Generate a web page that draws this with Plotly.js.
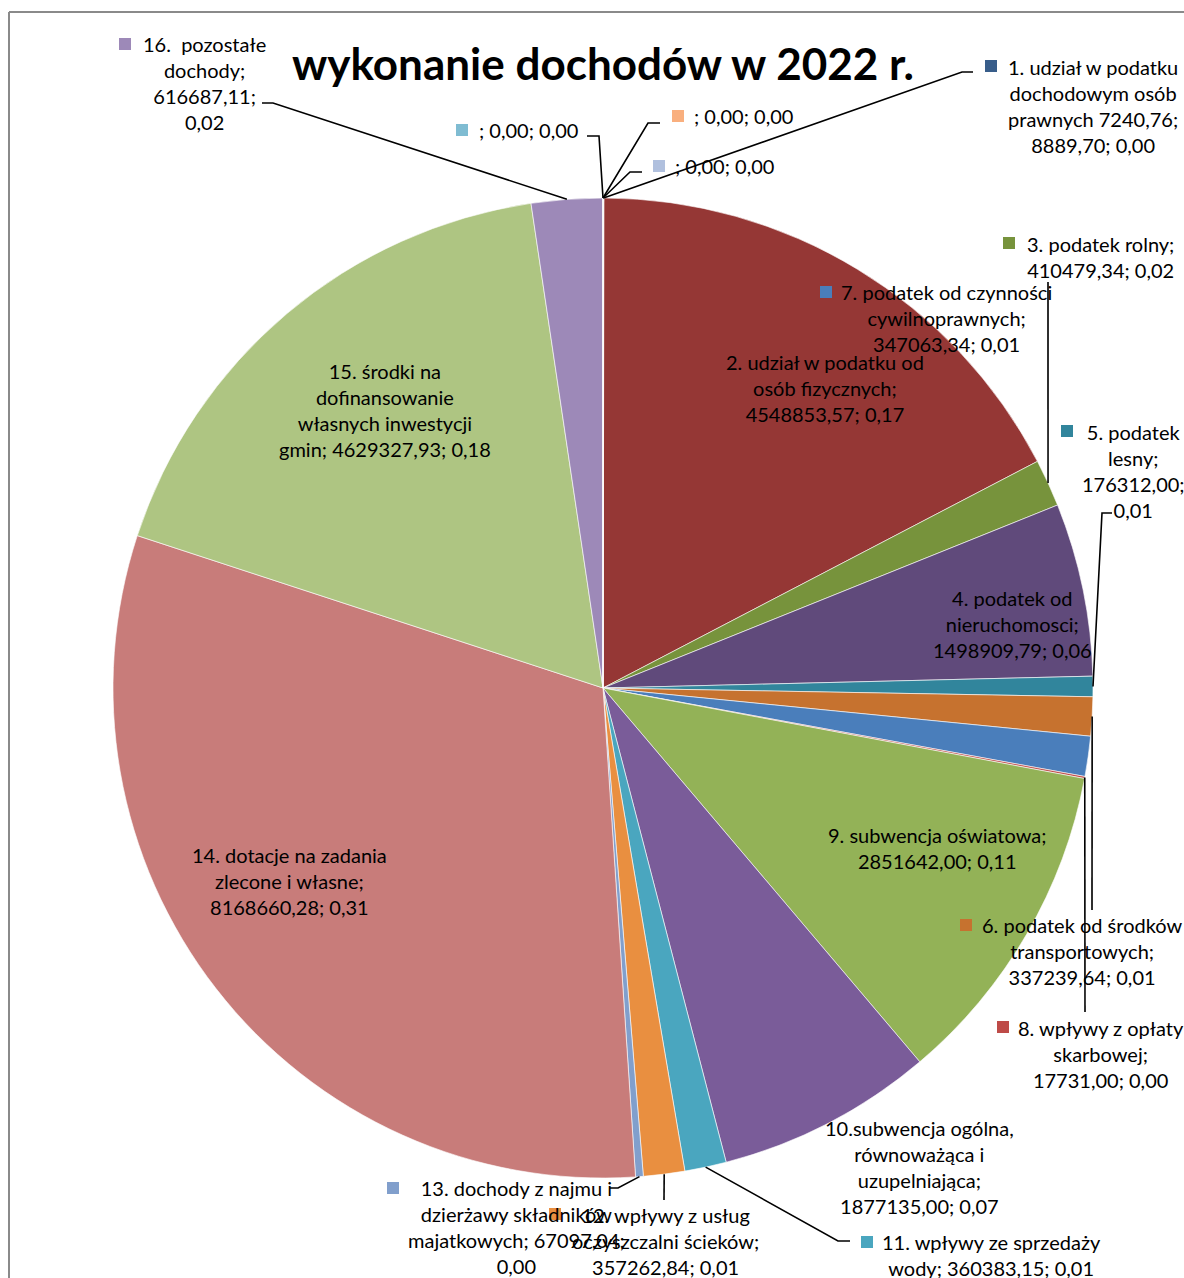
<!DOCTYPE html>
<html><head><meta charset="utf-8">
<script src="https://cdn.plot.ly/plotly-3.0.1.min.js"></script>
<style>html,body{margin:0;padding:0;background:#fff}</style>
</head><body><div id="chart" style="width:1184px;height:1278px"></div>
<script>
// ---------- DATA ----------
const chartTitle = "wykonanie dochodów w 2022 r.";
const categories = [
  "1. udział w podatku dochodowym osób prawnych 7240,76",
  "2. udział w podatku od osób fizycznych",
  "3. podatek rolny",
  "4. podatek od nieruchomosci",
  "5. podatek lesny",
  "6. podatek od środków transportowych",
  "7. podatek od czynności cywilnoprawnych",
  "8. wpływy z opłaty skarbowej",
  "9. subwencja oświatowa",
  "10.subwencja ogólna, równoważąca i uzupelniająca",
  "11. wpływy ze sprzedaży wody",
  "12. wpływy z usług oczyszczalni ścieków",
  "13. dochody z najmu i dzierżawy składników majatkowych",
  "14. dotacje na zadania zlecone i własne",
  "15. środki na dofinansowanie własnych inwestycji gmin",
  "16.  pozostałe dochody",
  "", "", ""
];
const values = [8889.70, 4548853.57, 410479.34, 1498909.79, 176312.00, 337239.64,
  347063.34, 17731.00, 2851642.00, 1877135.00, 360383.15, 357262.84, 67097.04,
  8168660.28, 4629327.93, 616687.11, 0, 0, 0];

// ---------- STYLE / LAYOUT ----------
const sliceColors = ["#385D8A","#953735","#77933C","#604A7B","#31859C","#C6722F",
  "#4A7EBB","#BE4B48","#93B257","#7A5C99","#4AA6BF","#E98F40","#819FCC","#C87C7A",
  "#AEC582","#9D89B8","#7FBCD2","#F9AF7E","#B0C0DE"];
const W = 1184, H = 1278;
const PIE = {cx: 603, cy: 688, r: 490};
const FONT = "Lato, 'Open Sans', sans-serif";
const FS = 20, LH = FS * 1.3;
const px = x => x / W, py = y => 1 - y / H;

// label placement: [category index, centre x, first line y, words per line, marker or null]
const labelSpec = [
  [0, 1093, 67, [4,2,2,2], [991,66]],
  [1, 825, 362, [5,2,2], null],
  [2, 1100, 244, [3,2], [1009,243]],
  [3, 1012, 598, [3,1,2], null],
  [4, 1133, 432, [2,1,1,1], [1067,431]],
  [5, 1082, 925, [4,1,2], [966,925]],
  [6, 946, 292, [4,1,2], [826,292]],
  [7, 1101, 1028, [4,1,2], [1003,1027]],
  [8, 937, 835, [3,2], null],
  [9, 920, 1128, [2,2,1,2], null],
  [10, 991, 1242, [4,3], [867,1242]],
  [11, 665, 1215, [4,2,2], [555,1214]],
  [12, 516, 1188, [5,2,2,1], [393,1188]],
  [13, 289, 855, [4,3,2], null],
  [14, 385, 371, [3,1,2,3], null],
  [15, 204, 44, [3,1,1,1], [125,44]],
  [16, 528, 130, [3], [462,130]],
  [17, 743, 116, [3], [678,116]],
  [18, 725, 166, [3], [659,166]]
];
// leader lines: start is computed from the slice, then these waypoints
const leaderSpec = [
  [0, [[962,72],[973,72]]],
  [18, [[630,172],[642,172]]],
  [17, [[648,123],[660,123]]],
  [16, [[599,136],[587,136]]],
  [15, [[273,103],[262,103]]],
  [2, [[1048,282]]],
  [4, [[1102,513],[1112,513]]],
  [5, [[1092,910]]],
  [7, [[1085,1012]]],
  [10, [[838,1241],[850,1241]]],
  [11, [[664,1200]]],
  [12, [[618,1188],[610,1188]]]
];

const total = values.reduce((a,b)=>a+b,0);
const fmt = v => v.toFixed(2).replace('.', ',');
const midAngle = [];
{ let cum = 0; values.forEach(v => { midAngle.push(360 * (cum + v/2) / total); cum += v; }); }

function slicePoint(i) {
  const a = midAngle[i] * Math.PI / 180;
  return [PIE.cx + PIE.r * Math.sin(a), PIE.cy - PIE.r * Math.cos(a)];
}

const annotations = [];
const shapes = [];
// frame
shapes.push({type:'line', xref:'paper', yref:'paper', x0:px(9), y0:py(12), x1:px(9), y1:py(H+5), line:{color:'#8a8a8a', width:2}});
shapes.push({type:'line', xref:'paper', yref:'paper', x0:px(9), y0:py(12), x1:px(W+5), y1:py(12), line:{color:'#8a8a8a', width:2}});

labelSpec.forEach(([i, cx, y0, counts, mk]) => {
  const full = categories[i] + '; ' + fmt(values[i]) + '; ' + fmt(values[i] / total);
  const words = full.split(' ');
  const lines = []; let k = 0;
  counts.forEach(c => { lines.push(words.slice(k, k + c).join(' ')); k += c; });
  const n = lines.length;
  annotations.push({
    xref:'paper', yref:'paper', x: px(cx), y: py(y0 + (n-1) * LH / 2),
    xanchor:'center', yanchor:'middle', align:'center', showarrow:false,
    text: lines.join('<br>'), font:{family:FONT, size:FS, color:'#000'}
  });
  if (mk) {
    shapes.push({type:'rect', xref:'paper', yref:'paper', x0:px(mk[0]-6), x1:px(mk[0]+6),
      y0:py(mk[1]+6), y1:py(mk[1]-6), fillcolor:sliceColors[i], line:{width:0}});
  }
});

leaderSpec.forEach(([i, pts]) => {
  const s = slicePoint(i);
  let d = 'M ' + px(s[0]) + ' ' + py(s[1]);
  pts.forEach(p => { d += ' L ' + px(p[0]) + ' ' + py(p[1]); });
  shapes.push({type:'path', xref:'paper', yref:'paper', path:d, line:{color:'#000', width:1.6}});
});

const trace = {
  type:'pie',
  labels: categories.map((c, i) => 'k' + i),
  values: values,
  sort:false, direction:'clockwise', rotation:0,
  textinfo:'none', hoverinfo:'none',
  marker:{colors:sliceColors, line:{color:'#ffffff', width:0.6}},
  domain:{x:[px(PIE.cx-PIE.r), px(PIE.cx+PIE.r)], y:[py(PIE.cy+PIE.r), py(PIE.cy-PIE.r)]},
  showlegend:false
};

const layout = {
  width:W, height:H, margin:{l:0,r:0,t:0,b:0,pad:0},
  paper_bgcolor:'#ffffff', plot_bgcolor:'#ffffff', showlegend:false,
  title:{text:'<b>' + chartTitle + '</b>', x:px(603), y:py(65), xref:'paper', yref:'paper',
    xanchor:'center', yanchor:'middle', font:{family:FONT, size:44, color:'#000'}},
  annotations: annotations, shapes: shapes
};
Plotly.newPlot('chart', [trace], layout, {staticPlot:true});
</script></body></html>
